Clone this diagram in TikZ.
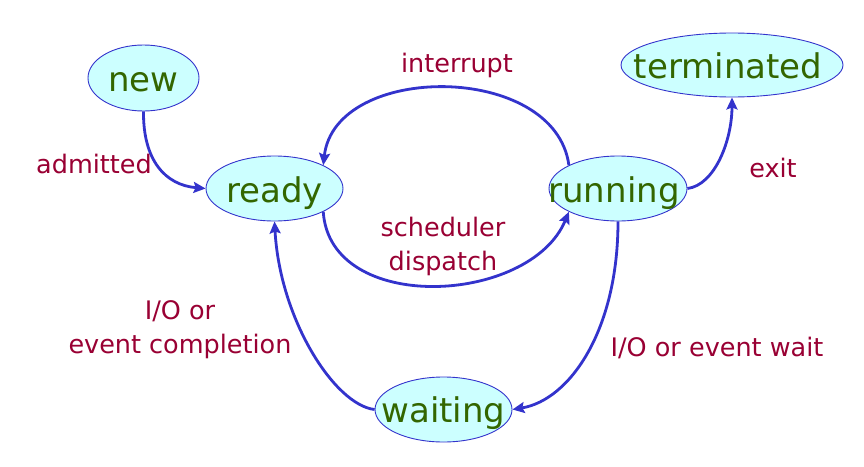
\documentclass[tikz,border=0pt]{standalone}
\usepackage{fontspec}
\setmainfont{DejaVu Sans}
\usetikzlibrary{shapes.geometric,arrows.meta}
\definecolor{nodefill}{HTML}{CCFFFF}
\definecolor{edgeblue}{HTML}{3333CC}
\definecolor{textgreen}{HTML}{336600}
\definecolor{labelred}{HTML}{990033}
\begin{document}
\begin{tikzpicture}[x=1pt,y=-1pt,
  state/.style={ellipse, draw=edgeblue, line width=0.9pt, fill=nodefill, inner sep=0pt},
  statetext/.style={text=textgreen, inner sep=0pt, anchor=base, font=\fontsize{34}{38}\selectfont},
  lbl/.style={text=labelred, inner sep=0pt, anchor=base, align=center, font=\fontsize{25.5}{34}\selectfont},
  edge/.style={draw=edgeblue, line width=2.8pt, -{Stealth[length=12pt,width=11pt,inset=2pt]}}
]
\useasboundingbox (0,0) rectangle (864,466);
% states
\node[state, minimum width=111pt, minimum height=66pt] (new) at (143.5,78) {};
\node[state, minimum width=137pt, minimum height=65pt] (ready) at (274.5,188.5) {};
\node[state, minimum width=138pt, minimum height=65pt] (running) at (618,188.5) {};
\node[state, minimum width=222pt, minimum height=64pt] (terminated) at (732,65) {};
\node[state, minimum width=137pt, minimum height=65pt] (waiting) at (443.5,409.5) {};
\node[statetext] (new-t) at (143.5,91) {new};
\node[statetext] (ready-t) at (274.5,202) {ready};
\node[statetext] (running-t) at (614,202) {running};
\node[statetext] (terminated-t) at (728,78) {terminated};
\node[statetext] (waiting-t) at (443.5,422) {waiting};
% transitions
\draw[edge] (new.south) .. controls (143,160) and (165,185) .. (ready.west);
\draw[edge] (running.north west) .. controls (555,62) and (335,62) .. (ready.north east);
\draw[edge] (ready.south east) .. controls (330,315) and (530,305) .. (running.south west);
\draw[edge] (running.east) .. controls (715,185) and (732,140) .. (terminated.south);
\draw[edge] (running.south) .. controls (618,330) and (570,400) .. (waiting.east);
\draw[edge] (waiting.west) .. controls (335,405) and (280,320) .. (ready.south);
% labels
\node[lbl] (l-admitted) at (94,173) {admitted};
\node[lbl] (l-interrupt) at (457,72) {interrupt};
\node[lbl] (l-exit) at (773,177) {exit};
\node[lbl] (l-sched) at (443,270) {scheduler\\dispatch};
\node[lbl] (l-iocomp) at (180,353) {I/O or\\event completion};
\node[lbl] (l-iowait) at (717,356) {I/O or event wait};
\end{tikzpicture}
\end{document}
